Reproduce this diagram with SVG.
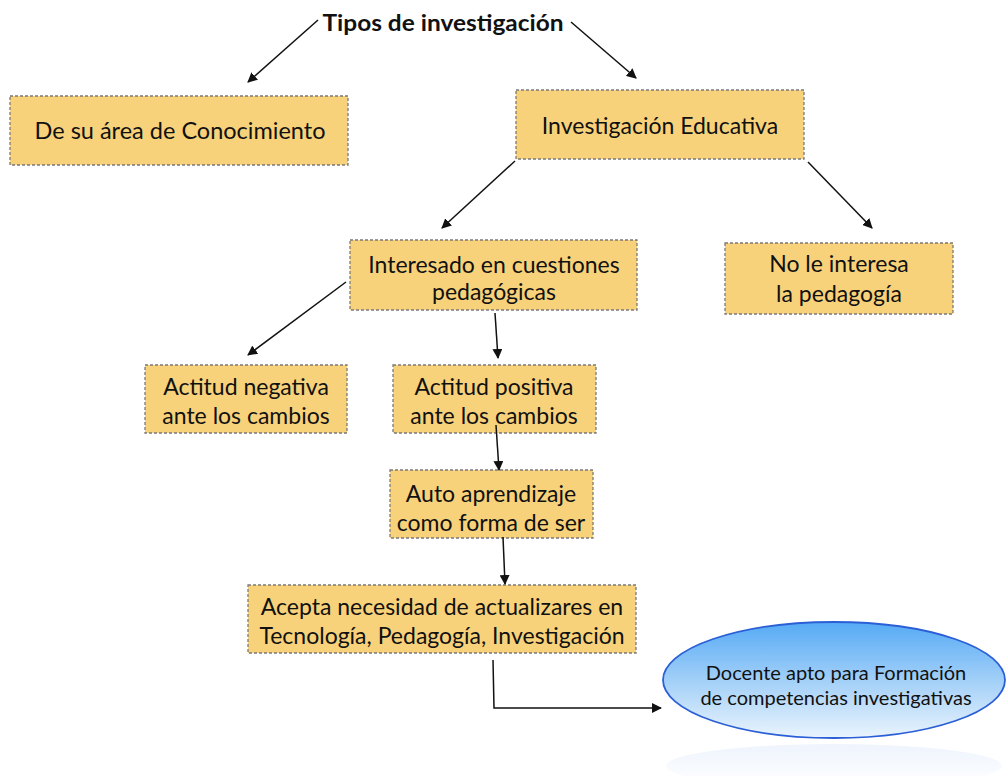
<svg xmlns="http://www.w3.org/2000/svg" width="1006" height="776" viewBox="0 0 1006 776">
<defs>
<marker id="ah" viewBox="0 0 10 10" refX="9" refY="5" markerWidth="10" markerHeight="10" markerUnits="userSpaceOnUse" orient="auto">
<path d="M0,0 L10,5 L0,10 z" fill="#111"/>
</marker>
<linearGradient id="eg" x1="0" y1="0" x2="0" y2="1">
<stop offset="0" stop-color="#55aaf5"/>
<stop offset="0.55" stop-color="#a9d3f8"/>
<stop offset="1" stop-color="#eaf4fd"/>
</linearGradient>
<linearGradient id="rg" x1="0" y1="0" x2="0" y2="1">
<stop offset="0" stop-color="#e3edfc"/>
<stop offset="1" stop-color="#ffffff"/>
</linearGradient>
</defs>
<style>
.box{fill:#f8d27a;stroke:#7a7a7a;stroke-width:1.3;stroke-dasharray:3 2}
.t{font-family:"Lato","Open Sans","Liberation Sans",sans-serif;font-size:23px;fill:#111;text-anchor:middle}
.c{stroke:#111;stroke-width:1.5;fill:none;marker-end:url(#ah)}
</style>
<rect width="1006" height="776" fill="#fff"/>
<g id="title">
<text x="443" y="31" class="t" style="font-weight:bold;font-size:23px" textLength="241" lengthAdjust="spacingAndGlyphs">Tipos de investigación</text>
</g>
<g id="n-area">
<rect class="box" x="10" y="96" width="338" height="69"/>
<text class="t" x="180" y="139" style="font-size:23.5px">De su área de Conocimiento</text>
</g>
<g id="n-educ">
<rect class="box" x="516" y="90" width="288" height="69"/>
<text class="t" x="660" y="134">Investigación Educativa</text>
</g>
<g id="n-interesado">
<rect class="box" x="350" y="240" width="287" height="70"/>
<text class="t" x="494" y="273">Interesado en cuestiones</text>
<text class="t" x="494" y="300">pedagógicas</text>
</g>
<g id="n-nointeresa">
<rect class="box" x="725" y="243" width="228" height="71"/>
<text class="t" x="839" y="272">No le interesa</text>
<text class="t" x="839" y="302">la pedagogía</text>
</g>
<g id="n-negativa">
<rect class="box" x="145" y="365" width="202" height="68"/>
<text class="t" x="246" y="395">Actitud negativa</text>
<text class="t" x="246" y="424">ante los cambios</text>
</g>
<g id="n-positiva">
<rect class="box" x="393" y="365" width="203" height="68"/>
<text class="t" x="494" y="395">Actitud positiva</text>
<text class="t" x="494" y="424">ante los cambios</text>
</g>
<g id="n-auto">
<rect class="box" x="390" y="470" width="203" height="68"/>
<text class="t" x="491" y="502">Auto aprendizaje</text>
<text class="t" x="491" y="531">como forma de ser</text>
</g>
<g id="n-acepta">
<rect class="box" x="248" y="585" width="388" height="68"/>
<text class="t" x="442" y="615">Acepta necesidad de actualizares en</text>
<text class="t" x="442" y="644">Tecnología, Pedagogía, Investigación</text>
</g>
<g id="n-docente">
<ellipse cx="834" cy="766" rx="168" ry="22" fill="url(#rg)" opacity="0.6"/>
<ellipse cx="834" cy="680" rx="171" ry="58" fill="url(#eg)" stroke="#2b5fd6" stroke-width="1.8"/>
<text class="t" x="836" y="680" style="font-size:20px">Docente apto para Formación</text>
<text class="t" x="836" y="705" style="font-size:20px">de competencias investigativas</text>
</g>
<g id="connectors">
<line class="c" x1="318" y1="20" x2="248" y2="82"/>
<line class="c" x1="571" y1="22" x2="636" y2="78"/>
<line class="c" x1="515" y1="161" x2="442" y2="228"/>
<line class="c" x1="808" y1="162" x2="872" y2="228"/>
<line class="c" x1="346" y1="282" x2="248" y2="355"/>
<line class="c" x1="495" y1="313" x2="498" y2="358"/>
<line class="c" x1="496" y1="425" x2="499" y2="470"/>
<line class="c" x1="503" y1="537" x2="505" y2="584"/>
<polyline class="c" points="493,660 494,708 661,708"/>
</g>
</svg>
